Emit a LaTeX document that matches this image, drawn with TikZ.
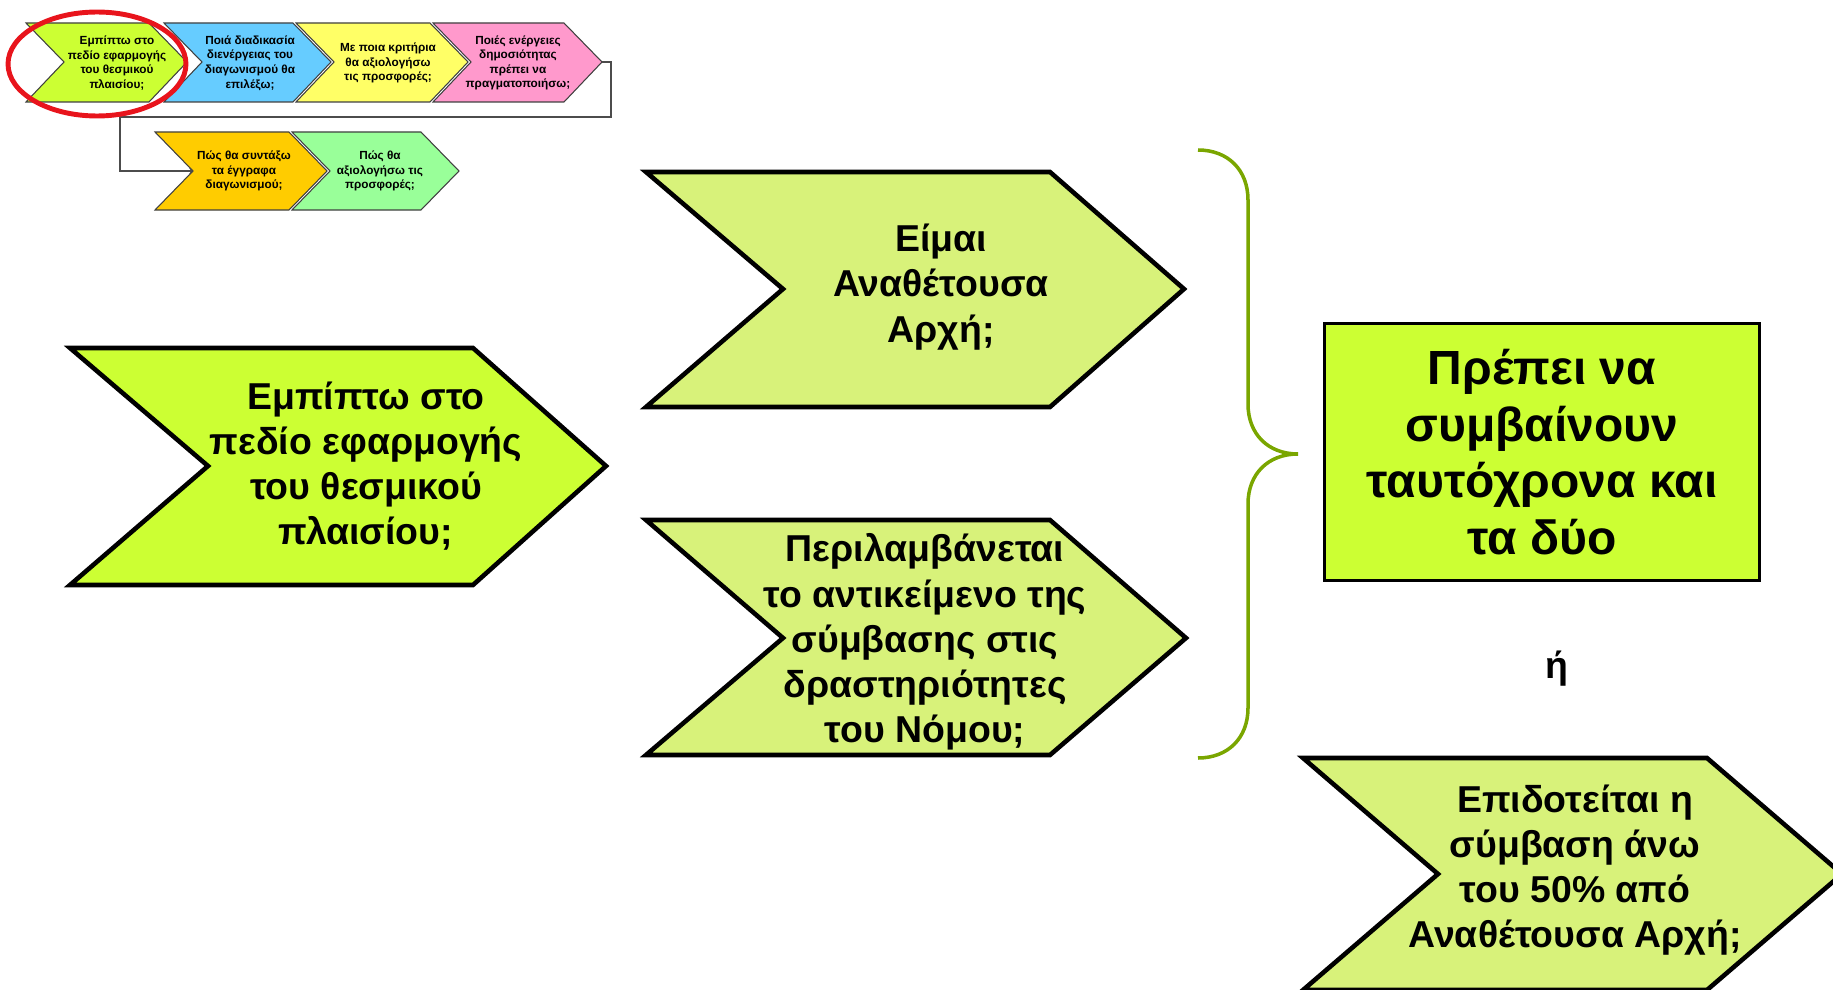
\documentclass[tikz,border=0pt]{standalone}
\usepackage{fontspec}
\setmainfont{Liberation Sans}
\usepackage{tikz}
\usetikzlibrary{positioning}

\definecolor{limefill}{RGB}{204,255,51}
\definecolor{dotfill}{RGB}{216,242,122}
\definecolor{bracegreen}{RGB}{122,166,0}
\definecolor{ringred}{RGB}{232,20,28}
\definecolor{miniblue}{RGB}{102,204,255}
\definecolor{miniyellow}{RGB}{255,255,102}
\definecolor{minipink}{RGB}{255,153,204}
\definecolor{miniorange}{RGB}{255,204,0}
\definecolor{minigreen}{RGB}{153,255,153}

\tikzset{
  bigchev/.style={draw=black, line width=2.6pt, miter limit=20},
  minichev/.style={draw=black!75, line width=0.6pt},
  bigtext/.style={font=\fontsize{21.3}{25.7}\selectfont\bfseries, align=center, inner sep=0pt},
  boxtext/.style={font=\fontsize{27.3}{32.3}\selectfont\bfseries, align=center},
  minitext/.style={font=\fontsize{6.7}{8.3}\selectfont\bfseries, align=center, inner sep=0pt},
  minilink/.style={draw=black!70, line width=0.6pt}
}

\begin{document}
\begin{tikzpicture}[x=0.02cm, y=-0.02cm]
  \useasboundingbox (0,0) rectangle (1833,990);

  % small overview at the top left
  \draw[minichev, fill=limefill] (26,23) -- (149,23) -- (187,62) -- (149,102) -- (26,102) -- (64,62) -- cycle;
  \draw[minichev, fill=miniblue] (164,23) -- (293,23) -- (331,62) -- (293,102) -- (164,102) -- (202,62) -- cycle;
  \draw[minichev, fill=miniyellow] (296,23) -- (430,23) -- (468,62) -- (430,102) -- (296,102) -- (334,62) -- cycle;
  \draw[minichev, fill=minipink] (433,23) -- (564,23) -- (602,62) -- (564,102) -- (433,102) -- (471,62) -- cycle;
  \draw[minichev, fill=miniorange] (155,132) -- (289,132) -- (327,171) -- (289,210) -- (155,210) -- (193,171) -- cycle;
  \draw[minichev, fill=minigreen] (292,132) -- (421,132) -- (459,171) -- (421,210) -- (292,210) -- (330,171) -- cycle;

  \node[minitext] (m1) at (117,63) {Εμπίπτω στο\\πεδίο εφαρμογής\\του θεσμικού\\πλαισίου;};
  \node[minitext] (m2) at (250,63) {Ποιά διαδικασία\\διενέργειας του\\διαγωνισμού θα\\επιλέξω;};
  \node[minitext] (m3) at (388,63) {Με ποια κριτήρια\\θα αξιολογήσω\\τις προσφορές;};
  \node[minitext] (m4) at (518,63) {Ποιές ενέργειες\\δημοσιότητας\\πρέπει να\\πραγματοποιήσω;};
  \node[minitext] (m5) at (244,171) {Πώς θα συντάξω\\τα έγγραφα\\διαγωνισμού;};
  \node[minitext] (m6) at (380,171) {Πώς θα\\αξιολογήσω τις\\προσφορές;};

  \coordinate (pinktip) at (602,62);
  \coordinate (orangein) at (193,171);
  \draw[minilink, ->] (pinktip) -- ++(9,0) |- (120,117) |- (orangein);

  \draw[ringred, line width=2.8pt] (97,64) ellipse [x radius=1.78cm, y radius=1.04cm];

  % the main question
  \draw[bigchev, fill=limefill] (70,348) -- (473,348) -- (606,466) -- (473,585) -- (70,585) -- (208,466) -- cycle;
  \node[bigtext] (scope) at (366,466) {Εμπίπτω στο\\πεδίο εφαρμογής\\του θεσμικού\\πλαισίου;};

  % the two conditions
  \draw[bigchev, fill=dotfill] (646,172) -- (1050,172) -- (1184,289) -- (1050,407) -- (646,407) -- (783,289) -- cycle;
  \node[bigtext] (authority) at (941,287) {Είμαι\\Αναθέτουσα\\Αρχή;};

  \draw[bigchev, fill=dotfill] (646,520) -- (1050,520) -- (1186,638) -- (1050,755) -- (646,755) -- (783,638) -- cycle;
  \node[bigtext] (activity) at (925,642) {Περιλαμβάνεται\\το αντικείμενο της\\σύμβασης στις\\δραστηριότητες\\του Νόμου;};

  \draw[bracegreen, line width=2pt] (1198,150) .. controls (1228,150) and (1248,170) .. (1248,200)
    -- (1248,404) .. controls (1248,434) and (1268,454) .. (1298,454)
    .. controls (1268,454) and (1248,474) .. (1248,504)
    -- (1248,708) .. controls (1248,738) and (1228,758) .. (1198,758);

  % the answer
  \node[boxtext, draw=black, line width=2pt, fill=limefill, minimum width=8.7cm, minimum height=5.14cm] (both) at (1542,452) {Πρέπει να\\συμβαίνουν\\ταυτόχρονα και\\τα δύο};

  \node[bigtext] (or) at (1557,669) {ή};

  \draw[bigchev, fill=dotfill] (1303,758) -- (1707,758) -- (1842,874) -- (1707,990) -- (1303,990) -- (1438,874) -- cycle;
  \node[bigtext] (funded) at (1575,870) {Επιδοτείται η\\σύμβαση άνω\\του 50\% από\\Αναθέτουσα Αρχή;};
\end{tikzpicture}
\end{document}
